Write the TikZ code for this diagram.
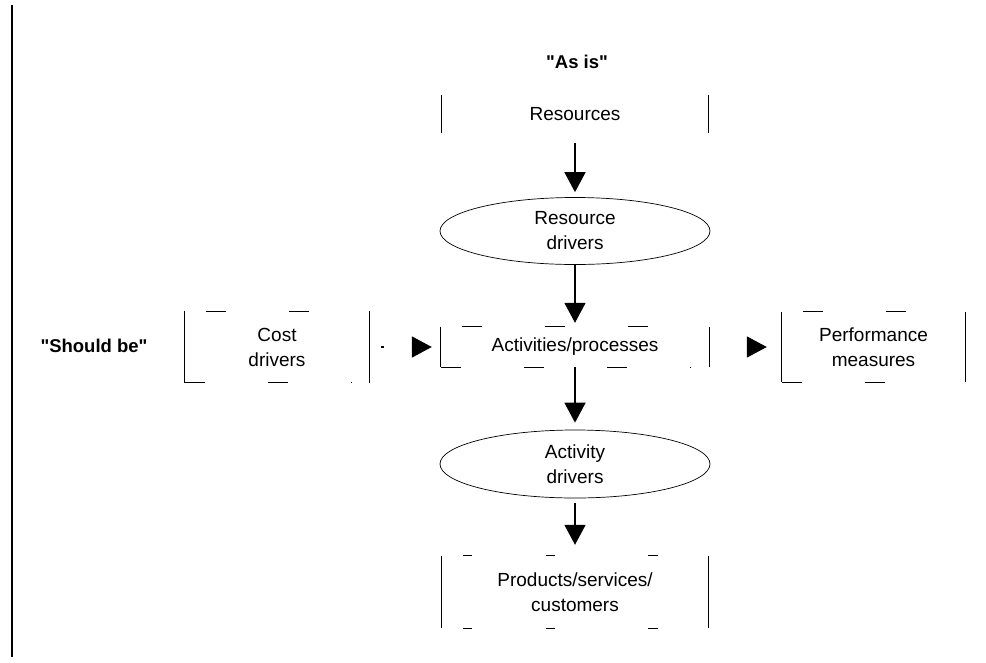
\documentclass[tikz,border=0pt]{standalone}
\usepackage{fontspec}
\setmainfont{Liberation Sans}[Ligatures=TeXOff]
\usetikzlibrary{arrows.meta,shapes.geometric}

\tikzset{
    txt/.style={font=\fontsize{19}{25}\selectfont, align=center, inner sep=0pt},
    hdr/.style={txt, font=\fontsize{18.5}{25}\selectfont\bfseries},
    oval/.style={txt, ellipse, draw, line width=0.7pt, minimum width=270pt, minimum height=67pt},
    side/.style={line width=0.8pt},
    rim/.style={line width=0.8pt, dash pattern=on 20pt off 63pt},
    flow/.style={line width=1.6pt, -{Triangle[length=20pt,width=21pt]}}
}

\begin{document}
\begin{tikzpicture}[x=1pt,y=-1pt]
    \useasboundingbox (0,0) rectangle (986,662);
    \draw[line width=1.6pt] (12,5) -- (12,657);
    % labels
    \node[hdr] (asis) at (577,62) {"As is"};
    \node[hdr] (should) at (94,346) {"Should be"};
    % boxes and ovals
    \node[txt, minimum width=266pt, minimum height=38pt] (res) at (575,114) {Resources};
    \node[oval] (resdrv) at (575,231) {Resource\\drivers};
    \node[txt, minimum width=268pt, minimum height=40pt] (act) at (575,347) {Activities/processes};
    \node[txt, minimum width=184pt, minimum height=71pt] (cost) at (277,347) {Cost\\drivers};
    \node[txt, minimum width=183pt, minimum height=70pt] (perf) at (873.5,347) {Performance\\measures};
    \node[oval, minimum height=68pt] (actdrv) at (575,464) {Activity\\drivers};
    \node[txt, minimum width=267pt, minimum height=72pt] (prod) at (575,592) {Products/services/\\customers};
    \foreach \n in {res,act,cost,perf,prod}
        \draw[side] (\n.north west) -- (\n.south west) (\n.north east) -- (\n.south east);
    \foreach \n in {act,cost,perf} {
        \draw[rim, shorten >=18pt] (\n.south west) -- (\n.south east);
        \draw[rim, dash phase=62pt, shorten >=18pt] (\n.north west) -- (\n.north east);
    }
    \draw[side, dash pattern=on 0pt off 22pt on 9pt off 74pt on 9pt off 93pt on 10pt off 60pt]
        (prod.north west) -- (prod.north east) (prod.south west) -- (prod.south east);
    % flows
    \draw[flow, shorten <=10pt, shorten >=5pt] (res) -- (resdrv);
    \draw[flow, shorten >=4pt] (resdrv) -- (act);
    \draw[flow, shorten >=7pt] (act) -- (actdrv);
    \draw[flow, shorten <=5pt, shorten >=11pt] (actdrv) -- (prod);
    \draw[flow, dash pattern=on 3pt off 60pt, shorten <=12pt, shorten >=9pt] (cost) -- (act);
    \draw[flow, shorten <=39pt, shorten >=15pt] (act) -- (perf);
\end{tikzpicture}
\end{document}
